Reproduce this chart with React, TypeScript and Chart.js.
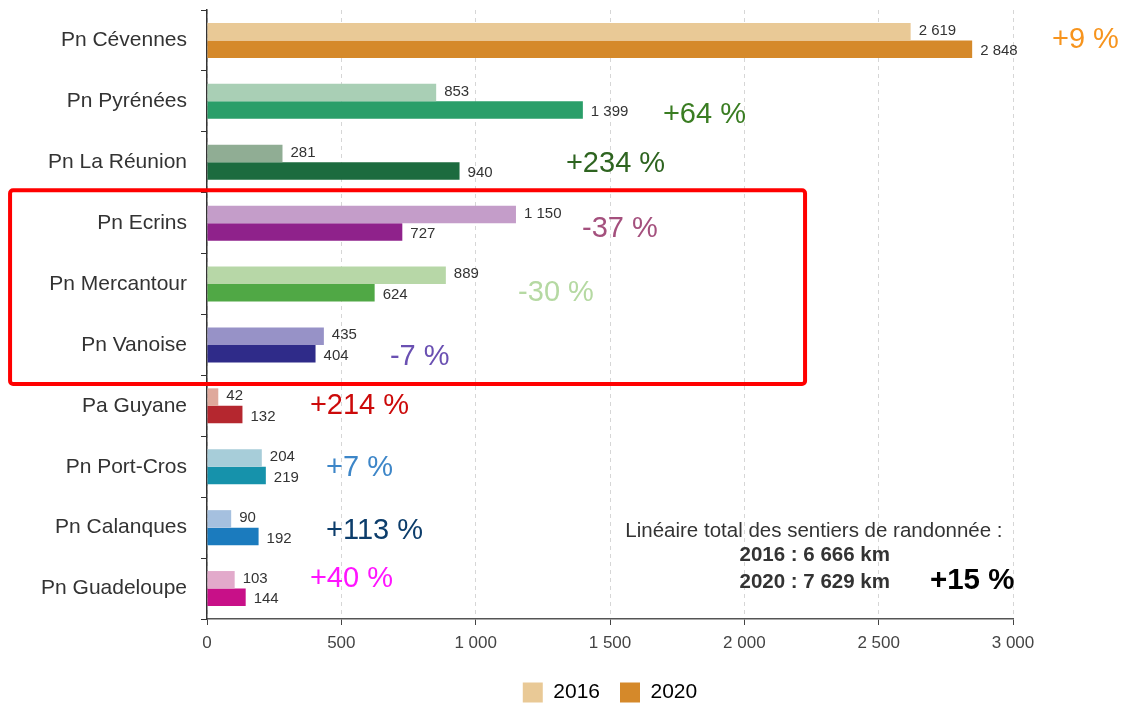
import React, { useEffect, useRef } from "react";
import { Chart, registerables } from "chart.js";

Chart.register(...registerables);

const categories = [
  "Pn Cévennes",
  "Pn Pyrénées",
  "Pn La Réunion",
  "Pn Ecrins",
  "Pn Mercantour",
  "Pn Vanoise",
  "Pa Guyane",
  "Pn Port-Cros",
  "Pn Calanques",
  "Pn Guadeloupe",
];

const values2016 = [2619, 853, 281, 1150, 889, 435, 42, 204, 90, 103];
const values2020 = [2848, 1399, 940, 727, 624, 404, 132, 219, 192, 144];

const colors2016 = [
  "#e9c996", "#a9cfb5", "#90ad94", "#c49dc9", "#b7d7a7",
  "#9792c7", "#dfa99c", "#a7cdd9", "#a5c0df", "#e2aacb",
];
const colors2020 = [
  "#d5892a", "#2a9e69", "#1c6b3f", "#8f228b", "#50a845",
  "#2f2b89", "#b5272f", "#1692ab", "#1b7bbe", "#c81088",
];

const pctLabels = ["+9 %", "+64 %", "+234 %", "-37 %", "-30 %", "-7 %", "+214 %", "+7 %", "+113 %", "+40 %"];
const pctColors = ["#f7941d", "#3a7d22", "#2e6420", "#a4507d", "#b5d9a2", "#6a50b2", "#cc0a0a", "#3d86c8", "#0c3d6b", "#ff14ff"];
const pctX = [3145, 1697, 1336, 1396, 1158, 681, 383, 443, 443, 383];
const pctY = [0.0, 1.22, 2.03, 3.1, 4.15, 5.2, 6.0, 7.02, 8.05, 8.84];

const xTicks = [0, 500, 1000, 1500, 2000, 2500, 3000];
const legendLabels = ["2016", "2020"];

const summaryTitle = "Linéaire total des sentiers de randonnée :";
const summaryLines = ["2016 : 6 666 km", "2020 : 7 629 km"];
const summaryTotal = "+15 %";

const FONT = "'Liberation Sans', Arial, Helvetica, sans-serif";

const fmt = (v: number) => String(v).replace(/\B(?=(\d{3})+(?!\d))/g, " ");

const overlayPlugin = {
  id: "overlay",
  afterLayout(chart: any) {
    const lg = chart.legend;
    if (lg) {
      lg.top += 9;
      lg.bottom += 9;
    }
  },
  afterDatasetsDraw(chart: any) {
    const { ctx } = chart;
    ctx.save();
    ctx.font = `15px ${FONT}`;
    ctx.fillStyle = "#333";
    ctx.textAlign = "left";
    ctx.textBaseline = "middle";
    chart.data.datasets.forEach((ds: any, di: number) => {
      const meta = chart.getDatasetMeta(di);
      meta.data.forEach((bar: any, i: number) => {
        ctx.fillText(fmt(ds.data[i]), bar.x + 8, bar.y + (di === 0 ? -1 : 2));
      });
    });
    ctx.restore();
  },
  afterDraw(chart: any) {
    const { ctx, scales } = chart;
    const xs = scales.x;
    const ys = scales.y;
    const yAt = (c: number) => {
      const p0 = ys.getPixelForValue(0);
      const p1 = ys.getPixelForValue(1);
      return p0 + (p1 - p0) * c;
    };
    ctx.save();
    // percentage labels
    ctx.textAlign = "left";
    ctx.textBaseline = "middle";
    ctx.font = `29px ${FONT}`;
    pctLabels.forEach((t, i) => {
      ctx.fillStyle = pctColors[i];
      ctx.fillText(t, xs.getPixelForValue(pctX[i]), yAt(pctY[i]));
    });
    // summary box
    ctx.fillStyle = "#333";
    ctx.textAlign = "center";
    ctx.font = `20.5px ${FONT}`;
    ctx.fillText(summaryTitle, xs.getPixelForValue(2259), yAt(8.06));
    ctx.font = `bold 20.5px ${FONT}`;
    ctx.fillText(summaryLines[0], xs.getPixelForValue(2262), yAt(8.46));
    ctx.fillText(summaryLines[1], xs.getPixelForValue(2262), yAt(8.89));
    ctx.fillStyle = "#000";
    ctx.textAlign = "left";
    ctx.font = `bold 29.5px ${FONT}`;
    ctx.fillText(summaryTotal, xs.getPixelForValue(2691), yAt(8.87));
    // red highlight rectangle
    const left = xs.getPixelForValue(-733);
    const right = xs.getPixelForValue(2226);
    const top = yAt(2.46);
    const bottom = yAt(5.64);
    ctx.strokeStyle = "#ff0000";
    ctx.lineWidth = 4;
    ctx.beginPath();
    if ((ctx as any).roundRect) {
      (ctx as any).roundRect(left, top, right - left, bottom - top, 3);
    } else {
      ctx.rect(left, top, right - left, bottom - top);
    }
    ctx.stroke();
    ctx.restore();
  },
};

export default function App() {
  const ref = useRef<HTMLCanvasElement | null>(null);

  useEffect(() => {
    if (!ref.current) return;
    const chart = new Chart(ref.current, {
      type: "bar",
      data: {
        labels: categories,
        datasets: [
          {
            label: legendLabels[0],
            data: values2016,
            backgroundColor: colors2016,
            borderWidth: 0,
            categoryPercentage: 0.575,
            barPercentage: 1,
          },
          {
            label: legendLabels[1],
            data: values2020,
            backgroundColor: colors2020,
            borderWidth: 0,
            categoryPercentage: 0.575,
            barPercentage: 1,
          },
        ],
      },
      options: {
        indexAxis: "y",
        animation: false,
        responsive: false,
        devicePixelRatio: 1,
        layout: { padding: { top: 10, right: 109, left: 0, bottom: 0 } },
        scales: {
          x: {
            min: 0,
            max: 3000,
            afterBuildTicks: (scale: any) => {
              scale.ticks = xTicks.map((v) => ({ value: v }));
            },
            afterFit: (scale: any) => {
              scale.height = 34;
            },
            ticks: {
              color: "#444",
              font: { family: FONT, size: 17 },
              padding: 8,
              callback: (v: any) => fmt(Number(v)),
              maxRotation: 0,
            },
            grid: {
              color: "#d6d6d6",
              tickColor: "#444",
              tickLength: 6,
              lineWidth: 1,
            },
            border: { display: true, color: "#555", width: 1.5, dash: [4, 4] },
          },
          y: {
            afterFit: (scale: any) => {
              scale.width = 207;
              scale.paddingTop = 0;
              scale.paddingBottom = 0;
            },
            ticks: {
              color: "#333",
              font: { family: FONT, size: 21 },
              padding: 14,
            },
            grid: {
              display: true,
              drawOnChartArea: false,
              offset: true,
              color: "#333",
              tickLength: 6,
            },
            border: { display: true, color: "#333", width: 1.5 },
          },
        },
        plugins: {
          legend: {
            position: "bottom",
            fullSize: false,
            labels: {
              boxWidth: 20,
              boxHeight: 20,
              padding: 20,
              color: "#333",
              font: { family: FONT, size: 21 },
              generateLabels: () =>
                legendLabels.map((t, i) => ({
                  text: t,
                  fillStyle: i === 0 ? colors2016[0] : colors2020[0],
                  strokeStyle: i === 0 ? colors2016[0] : colors2020[0],
                  lineWidth: 0,
                  hidden: false,
                  datasetIndex: i,
                })),
            },
          },
          tooltip: { enabled: false },
        },
      },
      plugins: [overlayPlugin],
    });
    return () => chart.destroy();
  }, []);

  return (
    <div style={{ position: "fixed", left: 0, top: 0, width: 1122, height: 704, background: "#fff" }}>
      <canvas ref={ref} width={1122} height={704} />
    </div>
  );
}
